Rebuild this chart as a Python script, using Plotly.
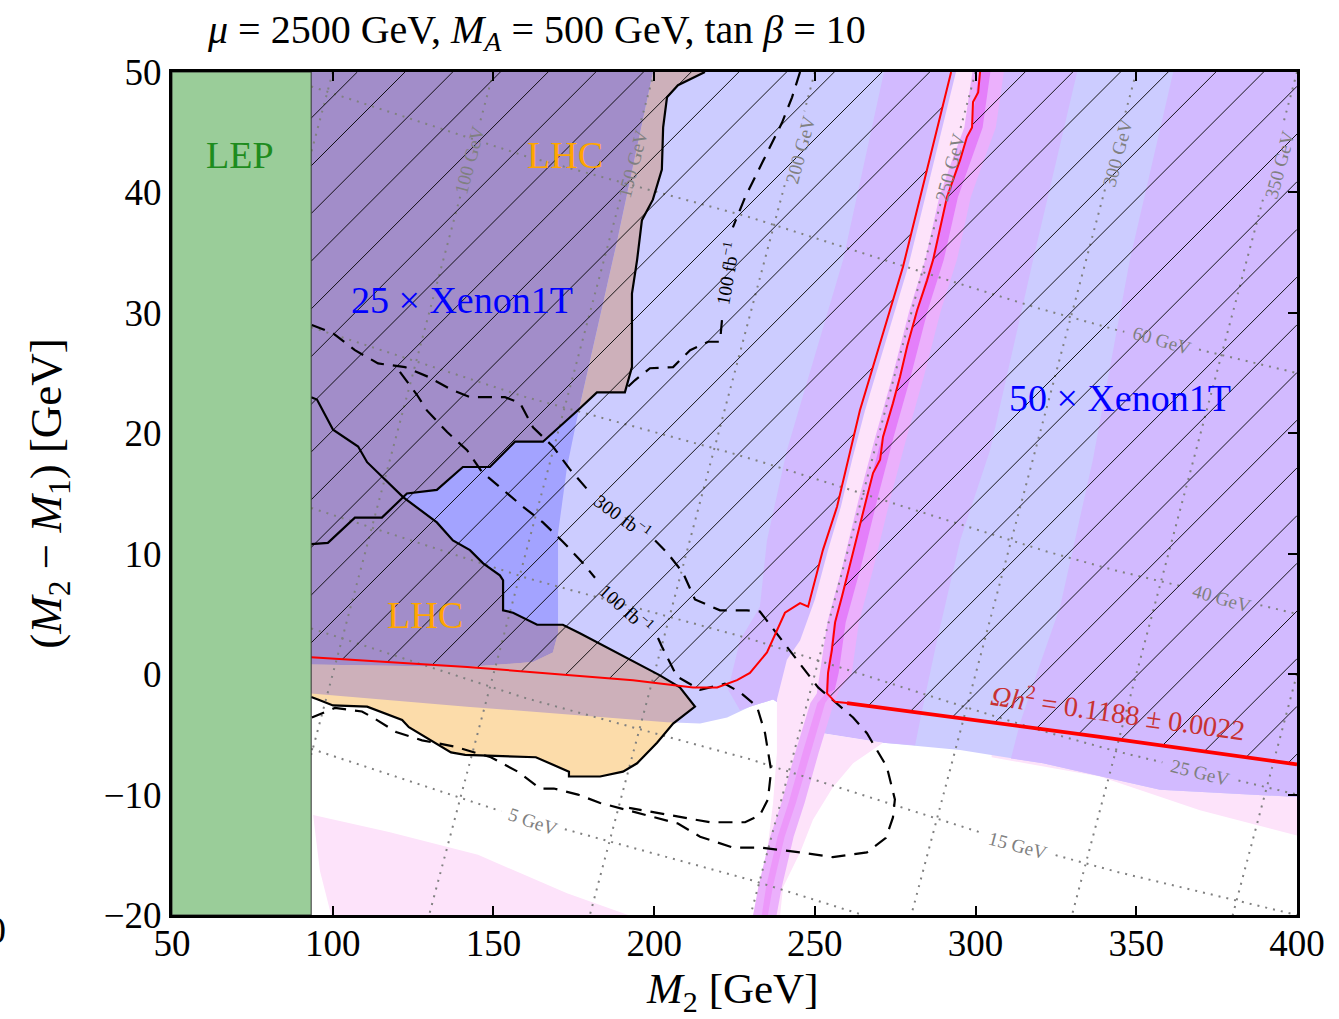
import numpy as np
import plotly.graph_objects as go

# ---------------- figure geometry ----------------
FIG_W, FIG_H = 1339, 1019
MARGIN = dict(l=172, r=42, t=72, b=104)
X_RANGE = [50, 400]
Y_RANGE = [-20, 50]
PX_PER_X = (FIG_W - MARGIN["l"] - MARGIN["r"]) / (X_RANGE[1] - X_RANGE[0])
PX_PER_Y = (FIG_H - MARGIN["t"] - MARGIN["b"]) / (Y_RANGE[1] - Y_RANGE[0])

# ---------------- data (M2 [GeV], M2 - M1 [GeV]) ----------------
lep_limit = 93.3

# relic density contour, Omega h^2 = 0.1188
relic_left_x = [93.3, 141.8, 193.4, 212.1, 219.6, 225.8, 229.8, 235.1, 240.7, 245.4, 247.9,
                252.5, 256.9, 261.9, 264.0, 277.4, 292.4]
relic_left_y = [1.4, 0.6, -0.5, -1.1, -1.1, -0.5, 0.1, 1.8, 5.1, 5.9, 5.6,
                10.3, 13.9, 19.4, 21.9, 33.8, 50.0]
relic_funnel_x = [301.4, 300.8, 299.2, 298.9, 297.3, 295.2, 291.1, 288.9, 286.8, 284.9, 281.8,
                  278.7, 276.5, 274.3, 271.2, 270.3, 268.1, 266.2, 263.4, 260.9, 258.4, 256.3,
                  255.3, 254.1, 253.8, 256.3, 260.0]
relic_funnel_y = [50.0, 48.3, 47.5, 45.4, 44.6, 42.7, 39.6, 36.9, 34.4, 32.7, 30.2,
                  27.2, 24.7, 22.5, 19.7, 17.8, 16.7, 14.7, 11.7, 8.9, 6.4, 4.3,
                  2.0, 0.1, -1.6, -2.3, -2.4]
relic_floor_x = [260.0, 338.7, 400.0]
relic_floor_y = [-2.4, -5.2, -7.5]

# LHC exclusion boundaries
lhc_upper_x = [215.8, 207.4, 204.0, 202.8, 202.4, 199.6, 196.2, 194.7, 193.1, 193.1, 190.9, 182.2,
               176.6, 165.4, 156.7, 148.9, 140.5, 132.4, 123.1, 115.3, 106.9, 98.5, 93.3]
lhc_upper_y = [50.0, 48.9, 47.9, 45.4, 41.9, 39.4, 37.7, 34.4, 31.6, 25.5, 23.4, 23.4,
               22.0, 19.3, 19.3, 17.2, 17.2, 15.3, 15.0, 13.0, 13.0, 10.9, 10.8]
lhc_lower_x = [93.3, 95.1, 100.1, 107.9, 110.7, 121.9, 132.4, 137.4, 142.7, 146.8, 152.0, 153.0,
               153.0, 156.1, 163.6, 171.6, 176.9, 201.8, 208.0, 212.7, 205.9, 200.9, 194.7, 190.3,
               183.2, 173.5, 173.5, 163.2, 141.2, 136.8, 123.7, 121.6, 110.7, 100.1, 95.4, 93.3]
lhc_lower_y = [23.0, 22.8, 20.3, 18.9, 17.6, 14.7, 12.6, 11.1, 10.3, 9.2, 8.2, 7.8,
               5.3, 5.1, 4.1, 4.1, 3.4, -0.1, -1.1, -2.7, -4.1, -5.7, -7.4, -8.1,
               -8.5, -8.5, -8.1, -6.9, -6.7, -6.5, -4.4, -3.8, -2.7, -2.6, -2.1, -1.9]

# direct detection reach: 25 x Xenon1T edge, 50 x Xenon1T lower edge
xenon25_edge_x = [199.6, 188.4, 176.6, 172.9, 170.1, 170.1, 168.5, 162.3, 141.8, 93.3]
xenon25_edge_y = [50.0, 35.9, 22.0, 17.2, 11.7, 3.4, 1.8, 1.0, 0.6, 0.8]
xenon50_floor_x = [93.3, 141.8, 204.0, 214.3, 222.7, 229.8, 237.0, 245.0, 252.5, 271.2, 295.2,
                   321.0, 357.4, 400.0]
xenon50_floor_y = [-1.6, -2.7, -4.0, -4.1, -3.6, -2.7, -2.1, -3.5, -4.9, -5.7, -6.3,
                   -7.4, -9.6, -10.2]

# cross-section bands inside the 50 x Xenon1T region
stripe_a_x = [271.5, 331.6, 317.9, 304.5, 295.2, 288.0, 283.6, 281.2, 271.2, 252.5, 245.0, 237.0,
              229.8, 226.7, 223.0, 226.7, 232.9, 235.1, 241.3, 258.8]
stripe_a_y = [50.0, 50.0, 34.4, 18.6, 11.1, 2.8, -2.7, -5.9, -5.7, -4.9, -3.5, -2.1,
              -2.7, -3.0, -1.3, 2.8, 5.6, 11.1, 18.6, 34.4]
stripe_b_x = [361.5, 400.0, 400.0, 357.4, 321.0, 311.0, 313.8, 319.1, 326.3, 336.5, 348.0]
stripe_b_y = [50.0, 50.0, -10.2, -9.6, -7.4, -7.0, -4.1, 0.1, 5.6, 17.8, 34.4]

# blind-spot / funnel region
funnel_x = [293.9, 279.0, 265.6, 261.6, 258.1, 254.1, 250.0, 245.4, 241.3, 238.2, 238.2, 237.0,
            235.1, 232.0, 230.8, 239.2, 240.1, 245.4, 249.4, 255.6, 261.9, 271.2, 252.5, 254.7,
            255.3, 258.4, 263.4, 270.3, 278.7, 286.8, 295.2, 298.9, 301.4]
funnel_y = [50.0, 33.8, 21.9, 17.8, 13.9, 10.3, 6.2, 2.8, 1.2, -2.1, -6.5, -10.7,
            -14.8, -19.0, -20.0, -20.0, -17.7, -14.8, -12.1, -9.4, -7.4, -5.7, -4.9, -2.1,
            2.0, 6.4, 11.7, 17.8, 27.2, 34.4, 42.7, 45.4, 50.0]
mid_band_x = [299.0, 296.5, 292.7, 288.7, 284.3, 279.4, 274.1, 268.8, 263.8, 258.5, 253.9, 251.7,
              250.6, 248.6, 243.9, 239.6, 236.1, 232.4, 230.8, 238.1, 239.7, 243.4, 246.8, 251.2,
              255.9, 257.6, 261.5, 263.7, 268.3, 273.6, 278.6, 283.9, 289.2, 294.2, 298.5, 302.6,
              306.3, 308.8]
mid_band_y = [50.0, 45.4, 42.7, 39.6, 34.4, 30.2, 24.7, 19.7, 14.7, 8.9, 4.3, 0.1,
              -1.6, -2.4, -6.5, -10.7, -13.5, -17.7, -20.0, -20.0, -17.7, -13.5, -10.7, -6.5,
              -2.4, -1.3, 0.1, 4.3, 8.9, 14.7, 19.7, 24.7, 30.2, 34.4, 39.6, 42.7,
              45.4, 50.0]
core_upper_x = [301.1, 298.6, 294.8, 290.8, 286.4, 281.5, 276.2, 270.9, 265.9, 260.6, 255.9, 253.8,
                253.4, 256.2, 257.4, 259.6, 264.3, 269.6, 274.5, 279.8, 285.1, 290.1, 294.5, 298.5,
                302.2, 304.6]
core_upper_y = [50.0, 45.4, 42.7, 39.6, 34.4, 30.2, 24.7, 19.7, 14.7, 8.9, 4.3, 0.1,
                -1.6, -1.3, 0.1, 4.3, 8.9, 14.7, 19.7, 24.7, 30.2, 34.4, 39.6, 42.7,
                45.4, 50.0]
core_lower_x = [253.4, 250.8, 246.2, 241.8, 238.4, 234.8, 233.5, 235.4, 236.9, 240.6, 244.1, 248.6,
                253.2, 256.2]
core_lower_y = [-1.6, -2.4, -6.5, -10.7, -13.5, -17.7, -20.0, -20.0, -17.7, -13.5, -10.7, -6.5,
                -2.4, -1.3]

pink_low_x = [93.9, 117.5, 145.2, 172.9, 191.9, 99.5, 96.0]
pink_low_y = [-11.7, -13.1, -15.0, -18.2, -20.0, -20.0, -16.3]
pink_right_x = [305.0, 338.7, 369.8, 400.0, 400.0, 305.0]
pink_right_y = [-6.9, -8.5, -11.3, -13.4, -9.0, -5.5]

# LHC projected reach (dashed), None = break for the inline label
reach300_x = [93.5, 100.1, 106.9, 114.1, 122.5, 129.6, 137.1, 142.7, 153.6, 158.3, 162.3, 168.5,
              173.8, 180.0, None, 200.3, 204.0, 209.0, 212.7, 220.5, 228.9, 232.9, 240.1, 251.0,
              261.9, 266.2, 272.4, 274.9, 274.3, 272.1, 266.2, 255.6, 245.4, 232.9, 224.5, 214.3,
              207.4, 192.2, 183.2, 176.3, 168.8, 164.5, 157.6, 149.2, 137.7, 127.8, 119.7, 112.5,
              109.1, 100.7, 93.5]
reach300_y = [29.0, 28.3, 26.9, 25.8, 25.5, 24.7, 23.6, 23.0, 23.0, 22.5, 20.5, 18.9,
              17.0, 15.1, None, 11.1, 10.1, 8.4, 6.2, 5.3, 5.3, 5.2, 2.7, -1.1,
              -3.6, -4.9, -7.7, -10.4, -11.9, -13.6, -14.8, -15.2, -14.8, -14.4, -14.4, -13.5,
              -12.4, -11.3, -10.7, -10.0, -9.5, -9.5, -8.1, -6.9, -6.0, -5.5, -4.8, -3.6,
              -3.1, -2.8, -3.6]
reach100_x = [120.9, 123.1, 126.2, 129.3, 135.6, 141.8, 146.4, 153.0, 159.2, 165.4, 171.6, 177.6,
              181.6, None, 201.2, 202.4, 207.1, 214.3, 222.0, 226.7, 232.0, 234.5, 236.4, 235.4,
              232.9, 228.3, 217.4, 204.9, 192.2]
reach100_y = [25.1, 24.3, 23.2, 21.9, 20.1, 18.6, 16.8, 15.3, 13.9, 12.6, 11.0, 9.3,
              8.0, None, 3.0, 2.3, -0.2, -1.3, -0.8, -1.5, -2.7, -4.9, -8.0, -10.4,
              -11.7, -12.3, -12.3, -11.7, -11.1]
reach100_top_x = [245.4, 242.9, 239.8, 234.5, 228.3, 224.5, None, 221.1, 220.5, 216.8, 211.2,
                  205.9, 198.7, 194.0, 190.0]
reach100_top_y = [50.0, 47.9, 45.8, 42.9, 39.6, 37.1, None, 29.4, 27.6, 27.6, 26.9,
                  25.5, 25.4, 24.4, 23.4]

# neutralino mass contours (dotted)
mass_levels = [50, 100, 150, 200, 250, 300, 350, 400]
mass_top_x = [100, 150, 200, 250, 300, 350, 400, 400]
mass_top_y = [50, 50, 50, 50, 50, 50, 50, 0]
mass_bot_x = [93.3, 93.3, 130, 180, 230, 280, 330, 380]
mass_bot_y = [43.3, -6.7, -20, -20, -20, -20, -20, -20]
mass_label_pos = {100: (142.7, 42.7), 150: (193.4, 42.4), 200: (245.4, 43.5),
                  250: (292.0, 42.1), 300: (344.3, 43.3), 350: (394.7, 42.3)}

# mass-splitting contours (dotted)
split_x = [93.3, 156.0, 229.0, 314.0, 339.0, 400.0]
split_60_y = [48.8, 43.3, 38.0, 30.8, 28.9, 25.0]
split_40_y = [28.8, 23.3, 18.0, 10.8, 8.9, 5.0]
split_25_y = [13.8, 8.3, 3.0, -4.2, -6.1, -10.0]
split_15_y = [3.8, -1.7, -7.0, -14.2, -16.1, -20.0]
split_5_x = [93.3, 156.0, 229.0, 265.0]
split_5_y = [-6.2, -11.7, -17.0, -20.0]
split_labels = [("60 GeV", 358.0, 27.7, 16), ("40 GeV", 376.7, 6.3, 16),
                ("25 GeV", 369.8, -8.2, 14), ("15 GeV", 313.2, -14.2, 15),
                ("5 GeV", 162.3, -12.2, 19)]

# ---------------- colours ----------------
COL_LEP = "#9ACD99"
COL_PINK = "#FDE3FA"
COL_X50 = "#CCCCFF"
COL_STRIPE = "#D2BAFF"
COL_X25 = "#A3A3FF"
COL_LHC = "#FCDCAA"
COL_LHC_X50 = "#CDB0BA"
COL_LHC_X25 = "#A28DC9"
COL_MID = "#EBB0FC"
COL_CORE = "#E47FFA"
COL_CORE_LOW = "#EC98FA"
COL_GREY = "#808080"
FONT = "Liberation Serif"


def poly(xs, ys, color):
    xs, ys = list(xs), list(ys)
    return go.Scatter(x=xs + [xs[0]], y=ys + [ys[0]], mode="lines", fill="toself",
                      fillcolor=color, line=dict(width=0), hoverinfo="skip", showlegend=False)


def line(xs, ys, color, width, dash="solid"):
    return go.Scatter(x=list(xs), y=list(ys), mode="lines", hoverinfo="skip", showlegend=False,
                      line=dict(color=color, width=width, dash=dash))


def crossing(ax, ay, bx, by):
    """First intersection point of polyline a with polyline b, with the segment index on a."""
    for i in range(len(ax) - 1):
        p, r = np.array([ax[i], ay[i]]), np.array([ax[i + 1] - ax[i], ay[i + 1] - ay[i]])
        for j in range(len(bx) - 1):
            q, s = np.array([bx[j], by[j]]), np.array([bx[j + 1] - bx[j], by[j + 1] - by[j]])
            den = r[0] * s[1] - r[1] * s[0]
            if abs(den) < 1e-12:
                continue
            t = ((q - p)[0] * s[1] - (q - p)[1] * s[0]) / den
            u = ((q - p)[0] * r[1] - (q - p)[1] * r[0]) / den
            if 0 <= t <= 1 and 0 <= u <= 1:
                pt = p + t * r
                return float(pt[0]), float(pt[1]), i
    return None


def hatch(xs, ys, spacing_px=47.7):
    """45-degree '/' hatch lines clipped to a polygon."""
    u = np.asarray(xs, float) * PX_PER_X
    v = np.asarray(ys, float) * PX_PER_Y
    k0 = MARGIN["l"] + MARGIN["t"] - X_RANGE[0] * PX_PER_X + Y_RANGE[1] * PX_PER_Y
    d = v - u
    ks = np.arange(np.ceil((k0 - d.max()) / spacing_px), np.floor((k0 - d.min()) / spacing_px) + 1)
    hx, hy = [], []
    n = len(u)
    for k in ks:
        c = k0 - k * spacing_px
        f = d - c
        cuts = []
        for i in range(n):
            j = (i + 1) % n
            if (f[i] > 0) != (f[j] > 0):
                t = f[i] / (f[i] - f[j])
                cuts.append(u[i] + t * (u[j] - u[i]))
        cuts.sort()
        for a, b in zip(cuts[0::2], cuts[1::2]):
            hx += [a / PX_PER_X, b / PX_PER_X, None]
            hy += [(a + c) / PX_PER_Y, (b + c) / PX_PER_Y, None]
    return hx, hy


def gapped(xs, ys, holes, radius_px, step_px=1.5):
    """Polyline with breaks around inline labels."""
    xs, ys = np.asarray(xs, float), np.asarray(ys, float)
    px, py = [], []
    for i in range(len(xs) - 1):
        seg = np.hypot((xs[i + 1] - xs[i]) * PX_PER_X, (ys[i + 1] - ys[i]) * PX_PER_Y)
        n = max(int(seg / step_px), 1)
        t = np.arange(n) / n
        px.append(xs[i] + t * (xs[i + 1] - xs[i]))
        py.append(ys[i] + t * (ys[i + 1] - ys[i]))
    px.append([xs[-1]])
    py.append([ys[-1]])
    px, py = np.concatenate(px), np.concatenate(py)
    keep = np.ones(len(px), bool)
    for hx, hy in holes:
        keep &= np.hypot((px - hx) * PX_PER_X, (py - hy) * PX_PER_Y) > radius_px
    ox, oy, prev = [], [], True
    for a, b, k in zip(px, py, keep):
        if k:
            ox.append(a)
            oy.append(b)
        elif prev:
            ox.append(None)
            oy.append(None)
        prev = k
    return ox, oy


fig = go.Figure()

# ---- background pink regions ----
fig.add_trace(poly(pink_low_x, pink_low_y, COL_PINK))
fig.add_trace(poly(pink_right_x, pink_right_y, COL_PINK))

# ---- 50 x Xenon1T reach and its cross-section bands ----
fig.add_trace(poly([93.3, 400.0] + xenon50_floor_x[::-1], [50.0, 50.0] + xenon50_floor_y[::-1], COL_X50))
fig.add_trace(poly(stripe_a_x, stripe_a_y, COL_STRIPE))
fig.add_trace(poly(stripe_b_x, stripe_b_y, COL_STRIPE))

# ---- 25 x Xenon1T reach ----
fig.add_trace(poly([93.3] + xenon25_edge_x, [50.0] + xenon25_edge_y, COL_X25))

# ---- funnel region ----
fig.add_trace(poly(funnel_x, funnel_y, COL_PINK))
fig.add_trace(poly(mid_band_x, mid_band_y, COL_MID))
fig.add_trace(poly(core_upper_x, core_upper_y, COL_CORE))
fig.add_trace(poly(core_lower_x, core_lower_y, COL_CORE_LOW))

# ---- LHC exclusions, tinted by the region underneath ----
fig.add_trace(poly(lhc_lower_x, lhc_lower_y, COL_LHC))

# upper region split by the 25 x Xenon1T edge (shared vertex at index 2 / 12)
fig.add_trace(poly(lhc_upper_x[:13] + xenon25_edge_x[1::-1],
                   lhc_upper_y[:13] + xenon25_edge_y[1::-1], COL_LHC_X50))
fig.add_trace(poly([93.3] + xenon25_edge_x[:3] + lhc_upper_x[13:],
                   [50.0] + xenon25_edge_y[:3] + lhc_upper_y[13:], COL_LHC_X25))

# lower region split by the 25 x and 50 x Xenon1T edges
cx25, cy25, i25 = crossing(lhc_lower_x, lhc_lower_y, xenon25_edge_x[3:6], xenon25_edge_y[3:6])
cxf, cyf, i_f = crossing(lhc_lower_x[15:], lhc_lower_y[15:], xenon50_floor_x, xenon50_floor_y)
i_f += 15
floor_left = [(x, y) for x, y in zip(xenon50_floor_x, xenon50_floor_y) if x < cxf][::-1]
tan_x = [cx25] + lhc_lower_x[i25 + 1:i_f + 1] + [cxf] + [p[0] for p in floor_left] + xenon25_edge_x[9:4:-1]
tan_y = [cy25] + lhc_lower_y[i25 + 1:i_f + 1] + [cyf] + [p[1] for p in floor_left] + xenon25_edge_y[9:4:-1]
fig.add_trace(poly(tan_x, tan_y, COL_LHC_X50))
fig.add_trace(poly(lhc_lower_x[:i25 + 1] + [cx25] + xenon25_edge_x[5:],
                   lhc_lower_y[:i25 + 1] + [cy25] + xenon25_edge_y[5:], COL_LHC_X25))

# ---- dotted mass contours ----
DOT = "2px,6px"
for m, tx, ty, bx, by in zip(mass_levels, mass_top_x, mass_top_y, mass_bot_x, mass_bot_y):
    holes = [mass_label_pos[m]] if m in mass_label_pos else []
    gx, gy = gapped([tx, bx], [ty, by], holes, 38)
    fig.add_trace(line(gx, gy, COL_GREY, 2.0, DOT))
for ys, (txt, lx, ly, ang) in zip([split_60_y, split_40_y, split_25_y, split_15_y],
                                  split_labels[:4]):
    gx, gy = gapped(split_x, ys, [(lx, ly)], 38)
    fig.add_trace(line(gx, gy, COL_GREY, 2.0, DOT))
gx, gy = gapped(split_5_x, split_5_y, [(split_labels[4][1], split_labels[4][2])], 32)
fig.add_trace(line(gx, gy, COL_GREY, 2.0, DOT))

# ---- hatching of the over-abundant region ----
h1x, h1y = hatch([93.3] + relic_left_x[::-1] + [93.3], [50.0] + relic_left_y[::-1] + [1.4])
h2x, h2y = hatch(relic_funnel_x + relic_floor_x[1:] + [400.0],
                 relic_funnel_y + relic_floor_y[1:] + [50.0])
fig.add_trace(line(h1x + h2x, h1y + h2y, "black", 0.9))

# ---- LHC boundaries ----
fig.add_trace(line(lhc_upper_x, lhc_upper_y, "black", 2.2))
fig.add_trace(line(lhc_lower_x, lhc_lower_y, "black", 2.2))

# ---- projected reach ----
for xs, ys in [(reach300_x, reach300_y), (reach100_x, reach100_y), (reach100_top_x, reach100_top_y)]:
    fig.add_trace(line(xs, ys, "black", 2.2, "14px,9px"))

# ---- relic density contour ----
fig.add_trace(line(relic_left_x, relic_left_y, "#FF0000", 2.0))
fig.add_trace(line(relic_funnel_x, relic_funnel_y, "#FF0000", 2.0))
fig.add_trace(line(relic_floor_x, relic_floor_y, "#FF0000", 3.8))

# ---- LEP exclusion ----
fig.add_shape(type="rect", x0=X_RANGE[0], x1=lep_limit, y0=Y_RANGE[0], y1=Y_RANGE[1],
              fillcolor=COL_LEP, line=dict(color="#333333", width=1), layer="above")

# ---- annotations ----
ann = []


def text(t, x, y, size, color, angle=0, xref="x", yref="y", **kw):
    ann.append(dict(text=t, x=x, y=y, xref=xref, yref=yref, showarrow=False, textangle=angle,
                    font=dict(family=FONT, size=size, color=color), **kw))


text("LEP", 71.2, 43.1, 38, "#1E8C1E")
text("LHC", 172.3, 43.1, 38, "#FFA500")
text("LHC", 128.7, 4.9, 38, "#FFA500")
text("25 × Xenon1T", 140.2, 31.1, 38, "#0000FF")
text("50 × Xenon1T", 344.9, 22.9, 38, "#0000FF")
text("300 fb<sup>−1</sup>", 190.1, 13.1, 19, "black", 36)
text("100 fb<sup>−1</sup>", 191.4, 5.5, 19, "black", 42)
text("100 fb<sup>−1</sup>", 222.6, 33.3, 19, "black", -80)
text("<i>Ωh</i><sup>2</sup> = 0.1188 ± 0.0022", 344.3, -3.1, 28, "#C83232", 8)
for m, (lx, ly) in mass_label_pos.items():
    text(f"{m} GeV", lx, ly, 19, COL_GREY, -75)
for txt, lx, ly, ang in split_labels:
    text(txt, lx, ly, 19, COL_GREY, ang)

# titles
text("<i>μ</i> = 2500 GeV, <i>M</i><sub><i>A</i></sub> = 500 GeV, tan <i>β</i> = 10",
     0.0293, 1.0474, 40, "black", 0, "paper", "paper", xanchor="left", yanchor="middle")
text("<i>M</i><sub>2</sub> [GeV]", 0.498, -0.091, 43, "black", 0, "paper", "paper",
     yanchor="middle")
text("(<i>M</i><sub>2</sub> − <i>M</i><sub>1</sub>) [GeV]", -0.110, 0.5, 45, "black", -90,
     "paper", "paper", xanchor="center", yanchor="middle")
text("0", -0.1458, -0.018, 38, "black", 0, "paper", "paper", xanchor="right", yanchor="middle")

axis_common = dict(showgrid=False, zeroline=False, showline=True, linecolor="black", linewidth=3,
                   mirror="ticks", ticks="inside", ticklen=9, tickwidth=1.5, tickcolor="black",
                   tickfont=dict(family=FONT, size=37, color="black"))
fig.update_layout(
    width=FIG_W, height=FIG_H, margin=MARGIN,
    plot_bgcolor="white", paper_bgcolor="white", showlegend=False,
    font=dict(family=FONT, color="black"),
    xaxis=dict(range=X_RANGE, tickvals=list(range(50, 401, 50)), ticklabelstandoff=-6,
               **axis_common),
    yaxis=dict(range=Y_RANGE, tickvals=list(range(-20, 51, 10)), **axis_common),
    annotations=ann,
)

fig.write_html("out.html")
